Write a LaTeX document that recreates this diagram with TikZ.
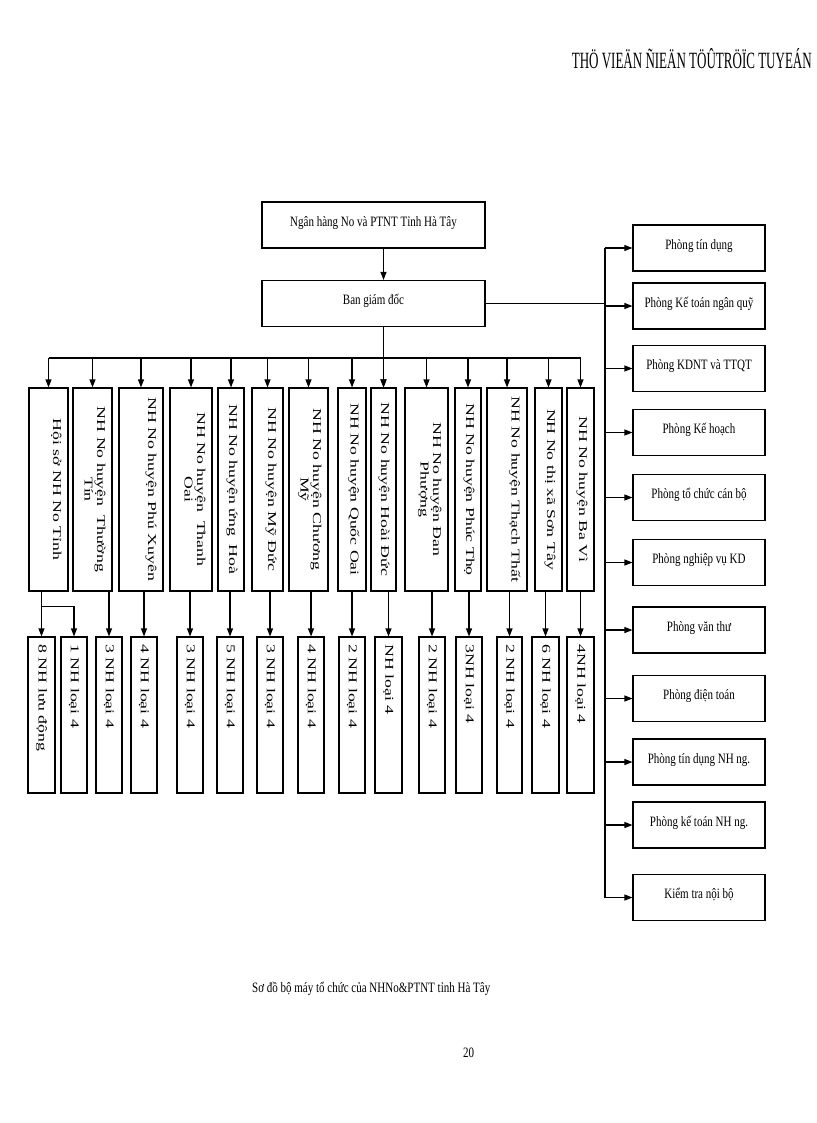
\documentclass[tikz,border=0pt]{standalone}
\usepackage{fontspec}
\usepackage{graphicx}
\setmainfont{Liberation Serif}[FakeStretch=0.77]
\newfontfamily\vertfont{Liberation Serif}[FakeStretch=1.48]
\usetikzlibrary{arrows.meta}

\begin{document}
\begin{tikzpicture}[x=1pt,y=-1pt,
  box/.style={draw, line width=1.1pt, inner sep=0pt},
  hbox/.style={box, minimum height=46pt, text height=10pt, text depth=8pt,
    font=\fontsize{14.3}{16}\selectfont},
  vlab/.style={rotate=-90, align=center, inner sep=0pt,
    font=\vertfont\fontsize{12}{12.5}\selectfont},
  arr/.style={line width=1.1pt, -{Triangle[length=8pt,width=6pt]}},
  link/.style={line width=1.1pt}]

\fill[white] (0,0) rectangle (816,1123);
\useasboundingbox (0,0) rectangle (816,1123);

% header
\node[anchor=base east, inner sep=0pt] (header) at (812,69)
  {\resizebox{240pt}{20pt}{\fontsize{20}{20}\selectfont THÖ VIEÄN ÑIEÄN TÖÛTRÖÏC TUYEÁN}};

% top of the tree
\node[hbox, minimum width=223pt] (bank) at (373.5,225) {Ngân hàng No và PTNT Tỉnh Hà Tây};
\node[hbox, minimum width=223pt] (bgd) at (373.5,303.5) {Ban giám đốc};

% branches
\foreach \n/\xl/\xr/\txt in {1/29/68/{Hội sở NH No Tỉnh},
  2/73/112/{NH No huyện\ \ Thường\\Tín}, 3/119/163/{NH No huyện Phú Xuyên},
  4/170/212/{NH No huyện\ \ Thanh\\Oai}, 5/218/244/{NH No huyện ứng\ \ Hoà},
  6/252/283/{NH No huyện Mỹ Đức}, 7/289/328/{NH No huyện Chương\\Mỹ},
  8/338/366/{NH No huyện Quốc Oai}, 9/371/396/{NH No huyện Hoài Đức},
  10/405/448/{NH No huyện Đan\\Phượng}, 11/455/481/{NH No huyện Phúc Thọ},
  12/487/527/{NH No huyện Thạch Thất}, 13/535/562/{NH No thị xã Sơn Tây},
  14/567/594/{NH No huyện Ba Vì}}
{
\pgfmathsetmacro\w{\xr-\xl}
\node[box, minimum width=\w pt, minimum height=203pt] (m\n) at ({(\xl+\xr)/2},489.5) {};
\node[vlab, anchor=north] at ([xshift=-7pt]m\n.east) {\txt};
}

% units
\foreach \n/\xl/\xr/\txt in {1/28/55/{8 NH lưu động}, 2/61/87/{1 NH loại 4},
  3/96/122/{3 NH loại 4}, 4/131/157/{4 NH loại 4}, 5/177/203/{3 NH loại 4},
  6/217/243/{5 NH loại 4}, 7/257/283/{3 NH loại 4}, 8/298/324/{4 NH loại 4},
  9/339/365/{2 NH loại 4}, 10/375/402/{NH loại 4}, 11/419/445/{2 NH loại 4},
  12/456/482/{3NH loại 4}, 13/497/522/{2 NH loại 4}, 14/532/559/{6 NH loại 4},
  15/567/594/{4NH loại 4}}
{
\pgfmathsetmacro\w{\xr-\xl}
\node[box, minimum width=\w pt, minimum height=156pt] (b\n) at ({(\xl+\xr)/2},715) {};
\node[vlab, anchor=west] at ([yshift=-8pt]b\n.north) {\txt};
}

% departments
\foreach \n/\y/\txt in {1/248/{Phòng tín dụng}, 2/306/{Phòng Kế toán ngân quỹ},
  3/368.5/{Phòng KDNT và TTQT}, 4/432.5/{Phòng Kế hoạch},
  5/497.5/{Phòng tổ chức cán bộ}, 6/562.5/{Phòng nghiệp vụ KD},
  7/630/{Phòng văn thư}, 8/698.5/{Phòng điện toán},
  9/762/{Phòng tín dụng NH ng.}, 10/825/{Phòng kế toán NH ng.},
  11/897.5/{Kiểm tra nội bộ}}
{
\node[hbox, minimum width=132pt] (r\n) at (699,\y) {\txt};
}

% connectors
\coordinate (bus) at (0,358);
\coordinate (trunk) at (605,0);

\draw[arr] (bank.south -| m9.north) -- (bgd.north -| m9.north);
\draw[arr] (bgd.south -| m9.north) -- (m9.north);
\draw[link] (m1.north |- bus) -- (m14.north |- bus);
\foreach \n in {1,...,14}
  \draw[arr] (m\n.north |- bus) -- (m\n.north);

\draw[link] (bgd.east) -- (trunk |- bgd.east);
\draw[link] (trunk |- r1.west) -- (trunk |- r11.west);
\foreach \n in {1,...,11}
  \draw[arr] (trunk |- r\n.west) -- (r\n.west);

\draw[arr] (m1.south -| b1.north) -- (b1.north);
\path (m1.south -| b1.north) ++(0,15) coordinate (split);
\draw[arr] (split) -| (b2.north);
\foreach \m/\b in {2/3,3/4,4/5,5/6,6/7,7/8,8/9,9/10,10/11,11/12,12/13,13/14,14/15}
  \draw[arr] (m\m.south -| b\b.north) -- (b\b.north);

% caption
\node[anchor=base west, inner sep=0pt, font=\fontsize{14.3}{16}\selectfont] (caption)
  at (252,992) {Sơ đồ bộ máy tổ chức của NHNo\&PTNT tỉnh Hà Tây};
\node[anchor=base west, inner sep=0pt, font=\fontsize{14.3}{16}\selectfont] (page)
  at (463,1057) {20};

\end{tikzpicture}
\end{document}
